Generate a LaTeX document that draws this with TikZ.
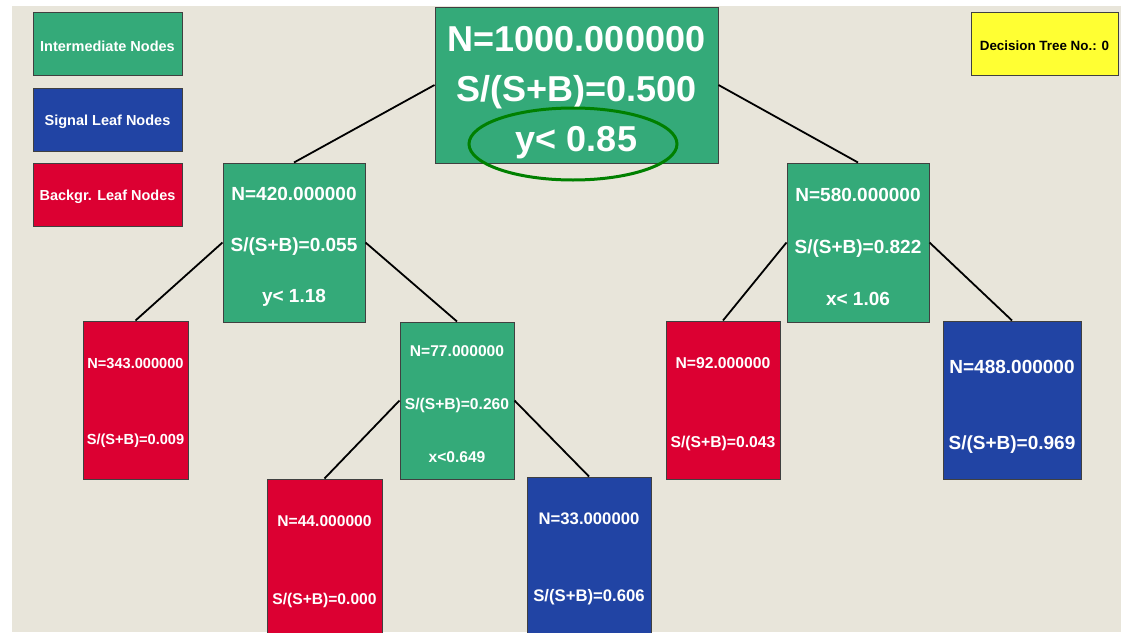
\documentclass[tikz,border=0pt]{standalone}
\usepackage{fontspec}
\setmainfont{Liberation Sans}
\usepackage{xcolor}

\definecolor{paper}{RGB}{232,229,218}
\definecolor{inodegreen}{RGB}{52,170,121}
\definecolor{sigblue}{RGB}{33,68,164}
\definecolor{bkgred}{RGB}{220,0,50}
\definecolor{tagyellow}{RGB}{255,255,51}
\definecolor{cutgreen}{RGB}{0,128,0}

\newcommand{\fsz}[2]{\fontsize{#1}{#2}\selectfont\bfseries}
\newcommand{\topgap}[1]{\rule{0pt}{#1pt}}

\begin{document}
\begin{tikzpicture}[x=1pt,y=-1pt,
  box/.style={draw=black!75, line width=1pt, inner sep=0pt, align=center, text=white},
  inter/.style={box, fill=inodegreen},
  sigleaf/.style={box, fill=sigblue},
  bkgleaf/.style={box, fill=bkgred},
  link/.style={line width=1.8pt, black}]
\useasboundingbox (0,0) rectangle (1121,632);
\clip (0,0) rectangle (1121,632);
\fill[paper] (12,6) rectangle (1121,632);

\node[inter, minimum width=149pt, minimum height=63pt, font=\fsz{14.5}{17}] (leginter) at (107.5,43.5) {\topgap{16}Intermediate Nodes};
\node[sigleaf, minimum width=149pt, minimum height=63pt, font=\fsz{14.5}{17}] (legsig) at (107.5,119.5) {\topgap{15}Signal Leaf Nodes};
\node[bkgleaf, minimum width=149pt, minimum height=63pt, font=\fsz{14.5}{17}] (legbkg) at (107.5,195) {\topgap{15}Backgr. Leaf Nodes};
\node[box, fill=tagyellow, text=black, minimum width=147pt, minimum height=63pt, font=\fsz{13.4}{16}] (treeno) at (1044.5,43.5) {\topgap{14}Decision Tree No.: 0};

\node[inter, minimum width=283pt, minimum height=156pt, font=\fsz{36}{50}] (n1000) at (576.5,85) {\topgap{40}N=1000.000000\\S/(S+B)=0.500\\y< 0.85};
\node[inter, minimum width=142pt, minimum height=159pt, font=\fsz{19}{51}] (n420) at (294,242.5) {\topgap{22}N=420.000000\\S/(S+B)=0.055\\y< 1.18};
\node[inter, minimum width=142pt, minimum height=159pt, font=\fsz{19}{52}] (n580) at (858,242.5) {\topgap{23}N=580.000000\\S/(S+B)=0.822\\x< 1.06};
\node[bkgleaf, minimum width=105pt, minimum height=158pt, font=\fsz{14.6}{76}] (n343) at (135.5,400) {\topgap{17}N=343.000000\\S/(S+B)=0.009};
\node[inter, minimum width=114pt, minimum height=157pt, font=\fsz{15.6}{53}] (n77) at (457,400.5) {\topgap{18.5}N=77.000000\\S/(S+B)=0.260\\x<0.649};
\node[bkgleaf, minimum width=115pt, minimum height=158pt, font=\fsz{15.6}{78}] (n44) at (324.5,558) {\topgap{18.5}N=44.000000\\S/(S+B)=0.000};
\node[sigleaf, minimum width=124pt, minimum height=158pt, font=\fsz{16.7}{77}] (n33) at (589,556) {\topgap{18}N=33.000000\\S/(S+B)=0.606};
\node[bkgleaf, minimum width=114pt, minimum height=158pt, font=\fsz{15.7}{79}] (n92) at (723,400) {\topgap{19.5}N=92.000000\\S/(S+B)=0.043};
\node[sigleaf, minimum width=138pt, minimum height=158pt, font=\fsz{19}{76}] (n488) at (1012,400) {\topgap{26}N=488.000000\\S/(S+B)=0.969};

\draw[link] (n1000.west) -- (n420.north) (n1000.east) -- (n580.north);
\draw[link] (n420.west) -- (n343.north) (n420.east) -- (n77.north);
\draw[link] (n77.west) -- (n44.north) (n77.east) -- (n33.north);
\draw[link] (n580.west) -- (n92.north) (n580.east) -- (n488.north);

\draw[cutgreen, line width=3pt] (573,144) ellipse [x radius=104, y radius=36];
\end{tikzpicture}
\end{document}
